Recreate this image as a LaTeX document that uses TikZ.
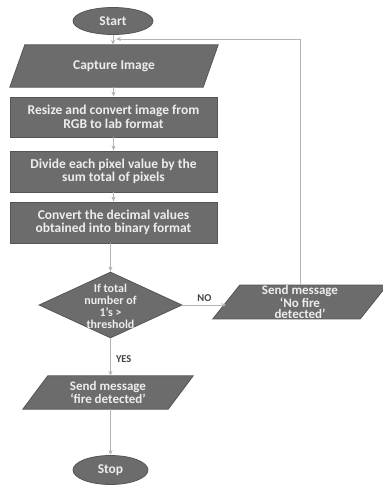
\documentclass[tikz,border=0pt]{standalone}
\usepackage{fontspec}
\setmainfont{Carlito}
\usetikzlibrary{shapes.geometric,arrows.meta,backgrounds}
\definecolor{boxfill}{HTML}{6C6C6C}
\definecolor{boxline}{HTML}{555555}
\definecolor{boxtext}{HTML}{EDEDED}
\definecolor{conn}{HTML}{B4B4B4}
\definecolor{lbl}{HTML}{444444}
\begin{document}
\begin{tikzpicture}[x=1pt,y=-1pt,
  every node/.style={font=\fontsize{13.5}{13.5}\selectfont\bfseries, text=boxtext, align=center, inner sep=0},
  terminal/.style={ellipse, draw=boxline, fill=boxfill, line width=0.8pt},
  procbox/.style={rectangle, draw=boxline, fill=boxfill, line width=0.8pt, minimum width=207pt},
  iotext/.style={rectangle, font=\fontsize{13}{11.5}\selectfont\bfseries},
  para/.style={draw=boxline, fill=boxfill, line width=0.8pt},
  conn/.style={draw=conn, line width=1pt, -{Stealth[length=5pt,width=4pt]}},
  lab/.style={text=lbl, font=\fontsize{10.5}{12}\selectfont\bfseries}]
\useasboundingbox (0,0) rectangle (383,485);
% nodes
\node[terminal, minimum width=80pt, minimum height=27pt] (start) at (113,21) {Start};
\node[iotext, minimum width=193pt, minimum height=42pt, font=\fontsize{13.5}{13.5}\selectfont\bfseries] (cap) at (114,66) {Capture Image};
\node[procbox, minimum height=40pt] (resize) at (113.5,117) {Resize and convert image from\\RGB to lab format};
\node[procbox, minimum height=41pt] (divide) at (113.5,171.5) {Divide each pixel value by the\\sum total of pixels};
\node[procbox, minimum height=41pt] (convert) at (113.5,222.5) {Convert the decimal values\\obtained into binary format};
\node[diamond, draw=boxline, fill=boxfill, line width=0.8pt, minimum width=143pt, minimum height=66pt] (dec) at (110.5,305) {};
\node[font=\fontsize{12}{12}\selectfont\bfseries] (dectext) at ([yshift=-1pt]dec) {If total\\number of\\1's \textgreater\\threshold};
\node[iotext, minimum width=147pt, minimum height=32pt] (nofire) at (300,302) {Send message\\`No fire\\detected'};
\node[iotext, minimum width=145pt, minimum height=33pt] (fire) at (108,392.5) {Send message\\`fire detected'};
\node[terminal, minimum width=75pt, minimum height=29pt] (stop) at (110.5,470) {Stop};
\coordinate (loopend) at (116,39);
% background and parallelogram outlines
\begin{scope}[on background layer]
\fill[white] (0,0) rectangle (383,485);
\path[para]
  ([xshift=7.5pt]cap.north west) -- ([xshift=7.5pt]cap.north east) -- ([xshift=-7.5pt]cap.south east) -- ([xshift=-7.5pt]cap.south west) -- cycle;
\path[para]
  ([xshift=13.5pt]nofire.north west) -- ([xshift=13.5pt]nofire.north east) -- ([xshift=-13.5pt]nofire.south east) -- ([xshift=-13.5pt]nofire.south west) -- cycle;
\path[para]
  ([xshift=12.5pt]fire.north west) -- ([xshift=12.5pt]fire.north east) -- ([xshift=-12.5pt]fire.south east) -- ([xshift=-12.5pt]fire.south west) -- cycle;
\end{scope}
% connectors
\draw[conn] (start.south) -- (start.south |- cap.north);
\draw[conn] (resize.north |- cap.south) -- (resize.north);
\draw[conn] (resize.south) -- (divide.north);
\draw[conn] (divide.south) -- (convert.north);
\draw[conn] (dec.north |- convert.south) -- (dec.north);
\draw[conn] (dec.east) -- (dec.east -| nofire.west) node[lab, midway, above=3pt] {NO};
\draw[conn] (dec.south) -- (dec.south |- fire.north) node[lab, pos=0.55, right=5pt] {YES};
\draw[conn] (dec.south |- fire.south) -- (dec.south |- stop.north);
\draw[conn] (nofire.north) |- (loopend);
\end{tikzpicture}
\end{document}
